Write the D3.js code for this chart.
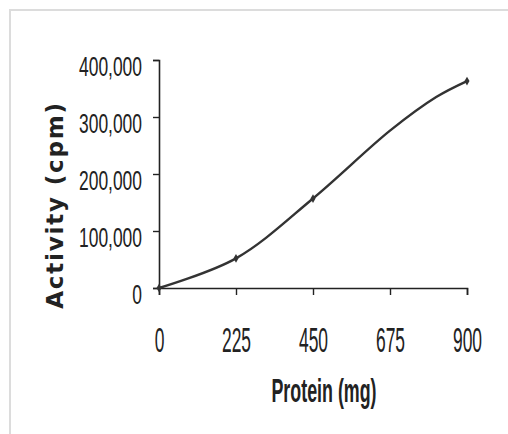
<!DOCTYPE html>
<html>
<head>
<meta charset="utf-8">
<script src="https://cdn.jsdelivr.net/npm/d3@7"></script>
<style>
  body { margin: 0; background: #fff; }
</style>
</head>
<body>
<div id="chart"></div>
<script>
var protein = [0, 225, 450, 675, 810, 900];
var activity = [0, 52000, 157000, 276000, 335000, 363000];
var markerIdx = [0, 1, 2, 5];
var xTicks = [0, 225, 450, 675, 900];
var yTicks = [0, 100000, 200000, 300000, 400000];

var svgWidth = 508;
var svgHeight = 434;

var margin = { top: 60, left: 159 };
var width = 467 - 159;
var height = 288 - 60;

var svg = d3.select("#chart")
  .append("svg")
  .attr("width", svgWidth)
  .attr("height", svgHeight);

// light frame, only top and left visible
svg.append("line").attr("x1", 10).attr("y1", 10).attr("x2", 508).attr("y2", 10)
  .attr("stroke", "#dcdcdc").attr("stroke-width", 2);
svg.append("line").attr("x1", 10).attr("y1", 9).attr("x2", 10).attr("y2", 434)
  .attr("stroke", "#dcdcdc").attr("stroke-width", 2);

var chartGroup = svg.append("g")
  .attr("transform", `translate(${margin.left}, ${margin.top})`);

var x = d3.scaleLinear().domain([0, 900]).range([0, width]);
var y = d3.scaleLinear().domain([0, 400000]).range([height, 0]);

var fmt = d3.format(",");

var yAxis = chartGroup.append("g")
  .call(d3.axisLeft(y).tickValues(yTicks).tickSize(6).tickPadding(11).tickFormat(fmt));
yAxis.select(".domain").attr("stroke", "#222").attr("stroke-width", 1.6);
yAxis.selectAll(".tick line").attr("stroke", "#222").attr("stroke-width", 1.4);
yAxis.selectAll(".tick text")
  .attr("fill", "#222")
  .style("font-family", "'Liberation Sans', Arial, sans-serif")
  .style("font-size", "21px")
  .attr("x", 0)
  .attr("dy", null)
  .attr("transform", "translate(-17,15) scale(0.83,1.33)");

var xAxis = chartGroup.append("g")
  .attr("transform", `translate(0, ${height})`)
  .call(d3.axisBottom(x).tickValues(xTicks).tickSize(7).tickPadding(0).tickFormat(d3.format("d")));
xAxis.select(".domain").attr("stroke", "#222").attr("stroke-width", 1.6);
xAxis.selectAll(".tick line").attr("stroke", "#222").attr("stroke-width", 1.4);
xAxis.selectAll(".tick text")
  .attr("fill", "#222")
  .style("font-family", "'Liberation Sans', Arial, sans-serif")
  .style("font-size", "21px")
  .attr("y", 0)
  .attr("dy", null)
  .attr("transform", "translate(0,64) scale(0.83,1.66)");

var pts = protein.map((p, i) => [x(p), y(activity[i])]);

chartGroup.append("path")
  .datum(pts)
  .attr("fill", "none")
  .attr("stroke", "#333")
  .attr("stroke-width", 2.4)
  .attr("d", d3.line().curve(d3.curveCatmullRom.alpha(0.5)));

chartGroup.selectAll(".mk")
  .data(markerIdx)
  .enter()
  .append("path")
  .attr("class", "mk")
  .attr("transform", i => `translate(${pts[i][0]}, ${pts[i][1]})`)
  .attr("d", d3.symbol().type(d3.symbolDiamond).size(22))
  .attr("fill", "#333");

svg.append("text")
  .attr("transform", "translate(324, 402) scale(0.85,1.6)")
  .attr("text-anchor", "middle")
  .style("font-family", "'Liberation Sans', Arial, sans-serif")
  .style("font-weight", "bold")
  .style("font-size", "21px")
  .attr("fill", "#222")
  .text("Protein (mg)");

svg.append("text")
  .attr("transform", "translate(63, 205) rotate(-90)")
  .attr("text-anchor", "middle")
  .style("font-family", "'DejaVu Sans', sans-serif")
  .style("font-weight", "bold")
  .style("font-size", "23px")
  .style("letter-spacing", "1.8px")
  .attr("fill", "#222")
  .text("Activity (cpm)");
</script>
</body>
</html>
